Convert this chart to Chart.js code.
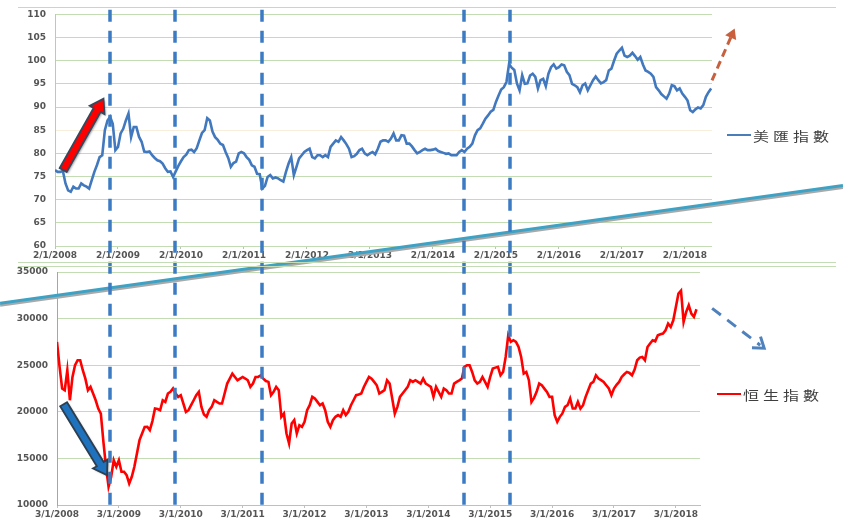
<!DOCTYPE html>
<html>
<head>
<meta charset="utf-8">
<script src="https://cdn.jsdelivr.net/npm/chart.js@4.4.1/dist/chart.umd.min.js"></script>
<style>
  html, body { margin: 0; padding: 0; background: #fff; }
  #wrap { position: relative; width: 843px; height: 520px; overflow: hidden; }
  #wrap canvas { position: absolute; left: 0; top: 0; }
  .frame { position: absolute; left: 18px; width: 818px; height: 1px; background: #c4dcb6; }
  .legend { position: absolute; height: 20px; display: flex; align-items: center; }
  .legend i { display: inline-block; width: 24px; height: 2px; margin-right: 2px; }
  .legend span { font-family: 'Noto Sans CJK TC', sans-serif; font-size: 16px; color: #3f3f3f;
                 letter-spacing: 4px; display: inline-block; transform: scaleY(0.8); }
</style>
</head>
<body>
<div id="wrap">
  <canvas id="topChart" width="843" height="520"></canvas>
  <canvas id="bottomChart" width="843" height="520"></canvas>
  <div class="frame" style="top:7px"></div>
  <div class="frame" style="top:262px"></div>
  <div class="frame" style="top:266px"></div>
  <div class="legend" style="left:727px; top:125px"><i style="background:#4a7ebb"></i><span>美匯指數</span></div>
  <div class="legend" style="left:717px; top:384px"><i style="background:#ff0000"></i><span>恒生指數</span></div>
</div>
<script>
// 美匯指數, every half month from 2/1/2008
const dollarStart = 2008;
const dollarIndex = [
  76.4, 76.0, 76.0, 76.2, 73.5, 72.0, 71.7, 72.8, 72.4, 72.4, 73.5, 73.1,
  72.8, 72.4, 74.2, 76.0, 77.5, 79.2, 79.6, 85.0, 87.1, 87.9, 86.4, 80.7,
  81.4, 84.3, 85.3, 87.1, 88.6, 83.5, 85.7, 85.7, 83.6, 82.5, 80.4, 80.3,
  80.4, 79.6, 79.0, 78.5, 78.3, 77.8, 76.8, 76.0, 76.1, 74.9, 76.1, 77.3,
  78.3, 79.2, 79.7, 80.7, 80.8, 80.3, 81.1, 82.8, 84.4, 85.0, 87.6, 87.1,
  84.7, 83.5, 82.9, 82.1, 81.8, 80.3, 79.0, 77.1, 77.9, 78.2, 80.0, 80.3,
  80.0, 79.2, 78.6, 77.4, 77.1, 75.6, 75.5, 72.4, 73.0, 74.9, 75.3, 74.6,
  74.8, 74.6, 74.2, 73.9, 76.0, 77.8, 79.2, 75.3, 77.1, 78.9, 79.6, 80.3,
  80.7, 81.0, 79.2, 78.9, 79.6, 79.6, 79.2, 79.6, 79.2, 81.4, 82.1, 82.8,
  82.5, 83.5, 82.8, 82.0, 81.0, 79.2, 79.4, 79.9, 80.7, 81.0, 80.0, 79.6,
  80.0, 80.3, 79.8, 81.0, 82.5, 82.8, 82.8, 82.5, 83.2, 84.3, 82.8, 82.8,
  83.9, 83.8, 82.1, 82.1, 81.5, 80.7, 80.0, 80.3, 80.7, 81.0, 80.7, 80.7,
  80.8, 81.0, 80.5, 80.3, 80.1, 79.9, 80.0, 79.6, 79.6, 79.6, 80.3, 80.7,
  80.3, 81.0, 81.4, 82.1, 83.9, 85.0, 85.4, 86.4, 87.5, 88.2, 89.0, 89.4,
  91.1, 92.5, 93.8, 94.3, 95.4, 99.3, 98.5, 98.0, 95.1, 93.6, 96.9, 95.0,
  95.1, 96.8, 97.2, 96.5, 94.0, 95.8, 96.1, 94.5, 97.2, 98.6, 99.2, 98.3,
  98.6, 99.2, 99.0, 97.6, 96.9, 95.0, 94.7, 94.3, 93.2, 94.7, 95.1, 93.6,
  94.7, 95.8, 96.6, 95.8, 95.1, 95.4, 95.8, 97.9, 98.3, 100.0, 101.5, 102.2,
  102.8, 101.1, 100.8, 101.1, 101.7, 101.0, 100.2, 100.8, 99.2, 97.9, 97.6, 97.2,
  96.5, 94.3, 93.6, 92.8, 92.3, 91.8, 92.9, 94.7, 94.5, 93.6, 94.0, 92.9,
  92.2, 91.4, 89.3, 88.9, 89.5, 89.9, 89.7, 90.4, 92.2, 93.2, 94.0
];
const dollarYears = [2008, 2009, 2010, 2011, 2012, 2013, 2014, 2015, 2016, 2017, 2018];

// 恒生指數, every half month from 3/1/2008
const hsiStart = 2008;
const hangSeng = [
  27500, 24820, 22500, 22320, 24460, 21240, 23740, 25000, 25530, 25530, 24460, 23560,
  22320, 22670, 21960, 21240, 20350, 19810, 16780, 14100, 11950, 13000, 14810, 14100,
  14810, 13560, 13560, 13200, 12310, 13030, 14100, 15530, 16960, 17670, 18380, 18390,
  18030, 19000, 20350, 20300, 20170, 21240, 21060, 21960, 22140, 22500, 21960, 21600,
  21780, 20890, 19990, 20170, 20710, 21240, 21780, 22140, 20530, 19700, 19460, 20170,
  20530, 21240, 21060, 20890, 20890, 21960, 23030, 23560, 24100, 23740, 23380, 23560,
  23740, 23570, 23380, 22670, 23030, 23740, 23740, 23900, 23560, 23300, 23210, 21780,
  22140, 22670, 22320, 19460, 19820, 17670, 16600, 18740, 19100, 17670, 18560, 18390,
  18920, 20170, 20710, 21600, 21420, 21070, 20710, 20890, 20170, 18920, 18380, 19100,
  19460, 19640, 19460, 20170, 19640, 20000, 20710, 21240, 21780, 21850, 21960, 22670,
  23210, 23740, 23560, 23210, 22850, 21960, 22140, 22320, 23380, 23030, 21420, 19810,
  20530, 21600, 21960, 22320, 22670, 23390, 23210, 23390, 23210, 23030, 23560, 23030,
  22850, 22670, 21600, 22670, 22140, 21600, 22500, 22320, 21960, 21960, 23030, 23210,
  23380, 23570, 24820, 25000, 25000, 24280, 23380, 23030, 23210, 23740, 23210, 22670,
  23740, 24640, 24740, 24820, 23920, 24280, 25890, 28210, 27500, 27680, 27500, 26960,
  25890, 24100, 24280, 23390, 21060, 21500, 22140, 23030, 22850, 22490, 22140, 21600,
  21600, 19640, 18920, 19460, 19820, 20530, 20710, 21420, 20350, 20350, 21060, 20350,
  20710, 21600, 22320, 23030, 23210, 23920, 23560, 23390, 23210, 22850, 22500, 21780,
  22500, 22900, 23210, 23740, 24030, 24280, 24170, 23920, 24530, 25530, 25820, 25890,
  25530, 26960, 27320, 27680, 27570, 28210, 28320, 28400, 28750, 29460, 29100, 29820,
  31250, 32680, 33000, 29640, 30710, 31430, 30530, 30180, 31000
];
const hsiYears = [2008, 2009, 2010, 2011, 2012, 2013, 2014, 2015, 2016, 2017, 2018];

// marks drawn on top (years / values of the two charts)
const guideDates = [2008.873, 2009.905, 2011.286, 2014.492, 2015.222];
const trendLine = [[2007.08, 31640], [2020.70, 44290]];
const upArrow = [[2008.13, 76.4], [2008.77, 91.8]];
const downArrow = [[2008.107, 20810], [2008.808, 13200]];
const dollarOutlook = [[2018.43, 95.75], [2018.79, 106.96]];
const hsiOutlook = [[2018.586, 31100], [2019.427, 26820]];

const tickFont = { family: 'DejaVu Sans', size: 9, weight: 'bold' };
const tickColor = '#555555';
const gridGreen = '#c3dcb4';

const topChart = new Chart(document.getElementById('topChart'), {
  type: 'line',
  data: {
    datasets: [{
      label: '美匯指數',
      data: dollarIndex.map((v, i) => ({ x: dollarStart + i / 24, y: v })),
      borderColor: '#4178be',
      borderWidth: 2.6,
      pointRadius: 0,
      tension: 0
    }]
  },
  options: {
    responsive: false,
    animation: false,
    layout: { padding: { top: 14, right: 131, bottom: 254, left: 0 } },
    plugins: { legend: { display: false }, tooltip: { enabled: false } },
    scales: {
      x: {
        type: 'linear', min: 2008, max: 2018.43,
        afterBuildTicks: s => { s.ticks = dollarYears.map(v => ({ value: v })); },
        afterFit: s => { s.height = 20; },
        grid: { drawOnChartArea: false, tickLength: 3, color: '#bfbfbf' },
        border: { display: false },
        ticks: { padding: 1, maxRotation: 0, autoSkip: false, font: tickFont, color: tickColor,
                 callback: v => '2/1/' + v }
      },
      y: {
        min: 60, max: 110,
        afterFit: s => { s.width = 55; },
        ticks: { stepSize: 5, padding: 9, font: tickFont, color: tickColor, callback: v => String(v) },
        grid: { color: c => c.tick && c.tick.value === 85 ? '#f7efdc' : gridGreen, drawTicks: false },
        border: { color: '#b8cdb0' }
      }
    }
  }
});

function blockArrow(ctx, p0, p1, shaft, headW, headL, fill, stroke) {
  const dx = p1[0] - p0[0], dy = p1[1] - p0[1];
  const len = Math.hypot(dx, dy);
  ctx.save();
  ctx.translate(p0[0], p0[1]);
  ctx.rotate(Math.atan2(dy, dx));
  ctx.beginPath();
  ctx.moveTo(0, -shaft / 2);
  ctx.lineTo(len - headL, -shaft / 2);
  ctx.lineTo(len - headL, -headW / 2);
  ctx.lineTo(len, 0);
  ctx.lineTo(len - headL, headW / 2);
  ctx.lineTo(len - headL, shaft / 2);
  ctx.lineTo(0, shaft / 2);
  ctx.closePath();
  ctx.shadowColor = 'rgba(0,0,0,0.35)';
  ctx.shadowOffsetX = 1.5;
  ctx.shadowOffsetY = 1.5;
  ctx.shadowBlur = 2;
  ctx.fillStyle = fill;
  ctx.fill();
  ctx.shadowColor = 'transparent';
  ctx.lineWidth = 1.8;
  ctx.strokeStyle = stroke;
  ctx.stroke();
  ctx.restore();
}

function dashedArrow(ctx, p0, p1, color, dash, filledHead) {
  const ang = Math.atan2(p1[1] - p0[1], p1[0] - p0[0]);
  ctx.save();
  ctx.strokeStyle = color;
  ctx.fillStyle = color;
  ctx.lineWidth = 3;
  ctx.setLineDash(dash);
  ctx.beginPath();
  ctx.moveTo(p0[0], p0[1]);
  ctx.lineTo(p1[0] - Math.cos(ang) * 5, p1[1] - Math.sin(ang) * 5);
  ctx.stroke();
  ctx.setLineDash([]);
  ctx.translate(p1[0], p1[1]);
  ctx.rotate(ang);
  ctx.beginPath();
  if (filledHead) {
    ctx.moveTo(0, 0);
    ctx.lineTo(-10, -6);
    ctx.lineTo(-10, 6);
    ctx.closePath();
    ctx.fill();
  } else {
    ctx.lineJoin = 'miter';
    ctx.moveTo(-10, -7);
    ctx.lineTo(0, 0);
    ctx.lineTo(-10, 7);
    ctx.stroke();
  }
  ctx.restore();
}

const overlay = {
  id: 'overlay',
  afterDraw(chart) {
    const ctx = chart.ctx;
    const bx = chart.scales.x, by = chart.scales.y;
    const tx = topChart.scales.x, ty = topChart.scales.y;
    const bp = p => [bx.getPixelForValue(p[0]), by.getPixelForValue(p[1])];
    const tp = p => [tx.getPixelForValue(p[0]), ty.getPixelForValue(p[1])];

    // diagonal line with its grey shadow
    const a = bp(trendLine[0]), b = bp(trendLine[1]);
    ctx.save();
    ctx.lineWidth = 3;
    ctx.strokeStyle = '#a9a9a9';
    ctx.beginPath(); ctx.moveTo(a[0], a[1] + 2); ctx.lineTo(b[0], b[1] + 2); ctx.stroke();
    ctx.strokeStyle = '#3fa2c4';
    ctx.beginPath(); ctx.moveTo(a[0], a[1]); ctx.lineTo(b[0], b[1]); ctx.stroke();
    ctx.restore();

    // vertical dashed guides
    ctx.save();
    ctx.strokeStyle = '#3b7bc4';
    ctx.lineWidth = 3.5;
    ctx.setLineDash([12, 9]);
    const yTop = ty.getPixelForValue(111), yBot = by.getPixelForValue(9500);
    guideDates.forEach(d => {
      const x = Math.round(tx.getPixelForValue(d));
      ctx.beginPath(); ctx.moveTo(x, yTop); ctx.lineTo(x, yBot); ctx.stroke();
    });
    ctx.restore();

    blockArrow(ctx, tp(upArrow[0]), tp(upArrow[1]), 8, 17, 13, '#ff0000', '#34495e');
    blockArrow(ctx, bp(downArrow[0]), bp(downArrow[1]), 8, 17, 13, '#1f72bd', '#2c3e50');
    dashedArrow(ctx, tp(dollarOutlook[0]), tp(dollarOutlook[1]), '#c8603e', [8, 5], true);
    dashedArrow(ctx, bp(hsiOutlook[0]), bp(hsiOutlook[1]), '#4f81bd', [11, 8], false);
  }
};

new Chart(document.getElementById('bottomChart'), {
  type: 'line',
  data: {
    datasets: [{
      label: '恒生指數',
      data: hangSeng.map((v, i) => ({ x: hsiStart + i / 24, y: v })),
      borderColor: '#ff0000',
      borderWidth: 2.6,
      pointRadius: 0,
      tension: 0
    }]
  },
  options: {
    responsive: false,
    animation: false,
    layout: { padding: { top: 272, right: 143, bottom: 0, left: 0 } },
    plugins: { legend: { display: false }, tooltip: { enabled: false } },
    scales: {
      x: {
        type: 'linear', min: 2008, max: 2018.39,
        afterBuildTicks: s => { s.ticks = hsiYears.map(v => ({ value: v })); },
        afterFit: s => { s.height = 15; },
        grid: { drawOnChartArea: false, tickLength: 3, color: '#bfbfbf' },
        border: { color: '#bfbfbf' },
        ticks: { padding: 1, maxRotation: 0, autoSkip: false, font: tickFont, color: tickColor,
                 callback: v => '3/1/' + v }
      },
      y: {
        min: 10000, max: 35000,
        afterFit: s => { s.width = 57; },
        ticks: { stepSize: 5000, padding: 9, font: tickFont, color: tickColor, callback: v => String(v) },
        grid: { color: gridGreen, drawTicks: false },
        border: { color: '#a6a6a6' }
      }
    }
  },
  plugins: [overlay]
});
</script>
</body>
</html>
